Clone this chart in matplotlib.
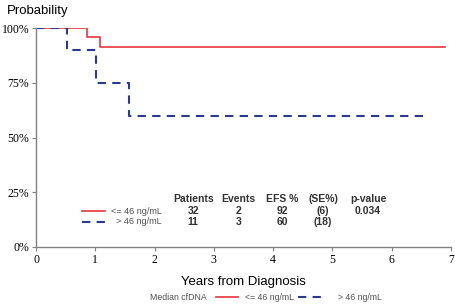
import matplotlib
matplotlib.use('Agg')
import matplotlib.pyplot as plt
from matplotlib.lines import Line2D

# Kaplan-Meier step points (years, survival probability)
low_t = [0, 0.86, 1.08, 6.9]
low_s = [1.00, 0.96, 0.915, 0.915]
high_t = [0, 0.53, 1.01, 1.57, 6.53]
high_s = [1.00, 0.90, 0.75, 0.60, 0.60]

groups = ['<= 46 ng/mL', '> 46 ng/mL']
patients = [32, 11]
events = [2, 3]
efs = [92, 60]
se = [6, 18]
p_value = '0.034'

x_ticks = [0, 1, 2, 3, 4, 5, 6, 7]
y_ticks = [0, 0.25, 0.5, 0.75, 1.0]
y_labels = ['0%', '25%', '50%', '75%', '100%']

red = '#e8343c'
blue = '#2b3a8c'
dash = (0, (4, 3))
sans = 'Liberation Sans'
serif = 'Liberation Serif'
W, H = 456.0, 306.0

fig = plt.figure(figsize=(4.56, 3.06), dpi=100)
ax = fig.add_axes([0.079, 0.193, 0.910, 0.715])

ax.step(low_t, low_s, where='post', color=red, lw=1.2)
ax.step(high_t, high_s, where='post', color=blue, lw=1.5, linestyle=dash)

ax.set_xlim(0, 7)
ax.set_ylim(0, 1.0)
ax.set_xticks(x_ticks)
ax.set_xticklabels([str(t) for t in x_ticks], family=serif, fontsize=8.5)
ax.set_yticks(y_ticks)
ax.set_yticklabels(y_labels, family=serif, fontsize=8.5)
ax.tick_params(length=3, width=0.8, color='#808080', pad=2)
for side in ['top', 'right']:
    ax.spines[side].set_visible(False)
for side in ['left', 'bottom']:
    ax.spines[side].set_color('#808080')
    ax.spines[side].set_linewidth(1.0)

fig.text(0.015, 0.965, 'Probability', family=sans, fontsize=9.5, va='center')
ax.set_xlabel('Years from Diagnosis', family=sans, fontsize=9.5, labelpad=7)

# inset summary table
cols = [2.65, 3.42, 4.15, 4.84, 5.60]
heads = ['Patients', 'Events', 'EFS %', '(SE%)', 'p-value']
hy, r1, r2 = 0.219, 0.164, 0.114
tk = dict(ha='center', va='center', family=sans, fontsize=7.5, fontweight='bold', color='#303030')
for c, h in zip(cols, heads):
    ax.text(c, hy, h, **tk)
for i, ry in enumerate([r1, r2]):
    ax.text(cols[0], ry, str(patients[i]), **tk)
    ax.text(cols[1], ry, str(events[i]), **tk)
    ax.text(cols[2], ry, str(efs[i]), **tk)
    ax.text(cols[3], ry, '(%d)' % se[i], **tk)
ax.text(cols[4], r1, p_value, **tk)

ax.plot([0.78, 1.16], [r1, r1], color=red, lw=1.2)
ax.plot([0.78, 1.16], [r2, r2], color=blue, lw=1.5, linestyle=dash)
ax.text(2.12, r1, groups[0], ha='right', va='center', family=sans, fontsize=6.5, color='#505050')
ax.text(2.12, r2, groups[1], ha='right', va='center', family=sans, fontsize=6.5, color='#505050')

# bottom legend row (figure pixel positions)
ly = 1 - 297 / H
lb = 1 - 300 / H
lt = dict(family=sans, fontsize=6.3, color='#505050', va='baseline')
fig.text(150 / W, lb, 'Median cfDNA', **lt)
fig.add_artist(Line2D([216 / W, 238 / W], [ly, ly], color=red, lw=1.2))
fig.text(245 / W, lb, groups[0], **lt)
fig.add_artist(Line2D([298 / W, 322 / W], [ly, ly], color=blue, lw=1.5, linestyle=dash))
fig.text(338 / W, lb, groups[1], **lt)

fig.savefig('out.png', dpi=100)
